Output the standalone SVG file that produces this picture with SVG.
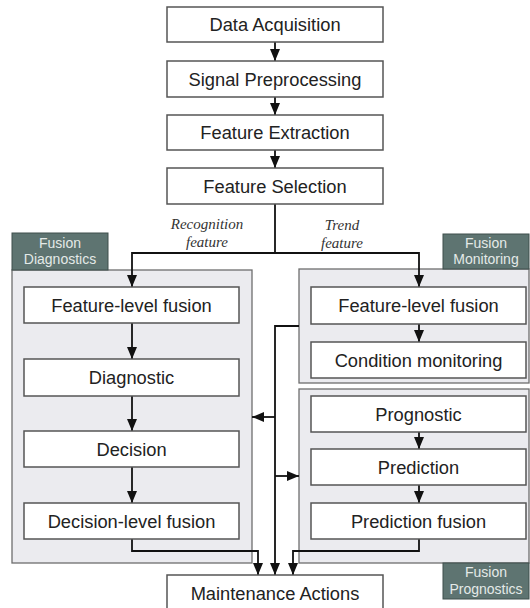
<svg xmlns="http://www.w3.org/2000/svg" width="530" height="608" viewBox="0 0 530 608">
  <style>
    .box { fill: #ffffff; stroke: #555555; stroke-width: 1.5; }
    .panel { fill: #ebebef; stroke: #6e6e6e; stroke-width: 1.3; }
    .tag { fill: #5e7471; stroke: #3f4f4c; stroke-width: 1; }
    .lbl { font-family: "Liberation Sans", Arial, sans-serif; font-size: 18.3px; fill: #222222; text-anchor: middle; }
    .tagtxt { font-family: "Liberation Sans", Arial, sans-serif; font-size: 14px; fill: #e4eae8; text-anchor: middle; }
    .note { font-family: "Liberation Serif", "Times New Roman", serif; font-style: italic; font-size: 15px; fill: #333333; text-anchor: middle; }
    .wire { fill: none; stroke: #111111; stroke-width: 1.8; }
  </style>
  <defs>
    <marker id="arrow" markerUnits="userSpaceOnUse" markerWidth="12" markerHeight="10" refX="12" refY="5" orient="auto">
      <path d="M0,0 L12,5 L0,10 z" fill="#111111"/>
    </marker>
  </defs>

  <!-- group panels and their tags -->
  <g id="panel-diagnostics">
    <rect class="panel" x="12" y="270" width="240" height="293"/>
    <rect class="tag" x="12" y="233" width="96" height="37"/>
    <text class="tagtxt" x="60" y="248">Fusion</text>
    <text class="tagtxt" x="60" y="264">Diagnostics</text>
  </g>
  <g id="panel-monitoring">
    <rect class="panel" x="299" y="269" width="230" height="114"/>
    <rect class="tag" x="443" y="234" width="86" height="35"/>
    <text class="tagtxt" x="486" y="248">Fusion</text>
    <text class="tagtxt" x="486" y="264">Monitoring</text>
  </g>
  <g id="panel-prognostics">
    <rect class="panel" x="299" y="389" width="230" height="174"/>
    <rect class="tag" x="443" y="563" width="86" height="36"/>
    <text class="tagtxt" x="486" y="577">Fusion</text>
    <text class="tagtxt" x="486" y="594">Prognostics</text>
  </g>

  <!-- connectors -->
  <g id="connectors">
    <line class="wire" x1="275" y1="42" x2="275" y2="61" marker-end="url(#arrow)"/>
    <line class="wire" x1="275" y1="97" x2="275" y2="115" marker-end="url(#arrow)"/>
    <line class="wire" x1="275" y1="150" x2="275" y2="168" marker-end="url(#arrow)"/>
    <polyline class="wire" points="275,204 275,253"/>
    <polyline class="wire" points="275,253 132,253 132,287" marker-end="url(#arrow)"/>
    <polyline class="wire" points="275,253 419,253 419,287" marker-end="url(#arrow)"/>

    <line class="wire" x1="132" y1="323" x2="132" y2="359" marker-end="url(#arrow)"/>
    <line class="wire" x1="132" y1="396" x2="132" y2="431" marker-end="url(#arrow)"/>
    <line class="wire" x1="132" y1="467" x2="132" y2="503" marker-end="url(#arrow)"/>
    <polyline class="wire" points="132,539 132,551 258,551 258,575" marker-end="url(#arrow)"/>

    <line class="wire" x1="419" y1="324" x2="419" y2="342" marker-end="url(#arrow)"/>
    <line class="wire" x1="419" y1="432" x2="419" y2="449" marker-end="url(#arrow)"/>
    <line class="wire" x1="419" y1="485" x2="419" y2="503" marker-end="url(#arrow)"/>
    <polyline class="wire" points="419,539 419,551 293,551 293,575" marker-end="url(#arrow)"/>

    <polyline class="wire" points="299,326 275,326 275,575" marker-end="url(#arrow)"/>
    <line class="wire" x1="275" y1="417" x2="252" y2="417" marker-end="url(#arrow)"/>
    <line class="wire" x1="275" y1="476" x2="299" y2="476" marker-end="url(#arrow)"/>

    <text class="note" x="207" y="229">Recognition</text>
    <text class="note" x="207" y="247">feature</text>
    <text class="note" x="342" y="230">Trend</text>
    <text class="note" x="342" y="248">feature</text>
  </g>

  <!-- pipeline stages -->
  <g id="data-acquisition">
    <rect class="box" x="167" y="7" width="216" height="35"/>
    <text class="lbl" x="275" y="31">Data Acquisition</text>
  </g>
  <g id="signal-preprocessing">
    <rect class="box" x="167" y="61" width="216" height="36"/>
    <text class="lbl" x="275" y="85.5">Signal Preprocessing</text>
  </g>
  <g id="feature-extraction">
    <rect class="box" x="167" y="115" width="216" height="35"/>
    <text class="lbl" x="275" y="139">Feature Extraction</text>
  </g>
  <g id="feature-selection">
    <rect class="box" x="167" y="168" width="216" height="36"/>
    <text class="lbl" x="275" y="192.5">Feature Selection</text>
  </g>

  <!-- diagnostics column -->
  <g id="diag-feature-fusion">
    <rect class="box" x="24" y="287" width="215" height="36"/>
    <text class="lbl" x="131.5" y="311.5">Feature-level fusion</text>
  </g>
  <g id="diagnostic">
    <rect class="box" x="24" y="359" width="215" height="37"/>
    <text class="lbl" x="131.5" y="384">Diagnostic</text>
  </g>
  <g id="decision">
    <rect class="box" x="24" y="431" width="215" height="36"/>
    <text class="lbl" x="131.5" y="455.5">Decision</text>
  </g>
  <g id="decision-fusion">
    <rect class="box" x="24" y="503" width="215" height="36"/>
    <text class="lbl" x="131.5" y="527.5">Decision-level fusion</text>
  </g>

  <!-- monitoring column -->
  <g id="mon-feature-fusion">
    <rect class="box" x="311" y="287" width="215" height="37"/>
    <text class="lbl" x="418.5" y="312">Feature-level fusion</text>
  </g>
  <g id="condition-monitoring">
    <rect class="box" x="311" y="342" width="215" height="36"/>
    <text class="lbl" x="418.5" y="366.5">Condition monitoring</text>
  </g>

  <!-- prognostics column -->
  <g id="prognostic">
    <rect class="box" x="311" y="396" width="215" height="36"/>
    <text class="lbl" x="418.5" y="420.5">Prognostic</text>
  </g>
  <g id="prediction">
    <rect class="box" x="311" y="449" width="215" height="36"/>
    <text class="lbl" x="418.5" y="473.5">Prediction</text>
  </g>
  <g id="prediction-fusion">
    <rect class="box" x="311" y="503" width="215" height="36"/>
    <text class="lbl" x="418.5" y="527.5">Prediction fusion</text>
  </g>

  <g id="maintenance-actions">
    <rect class="box" x="167" y="575" width="216" height="40"/>
    <text class="lbl" x="275" y="599.5">Maintenance Actions</text>
  </g>
</svg>
